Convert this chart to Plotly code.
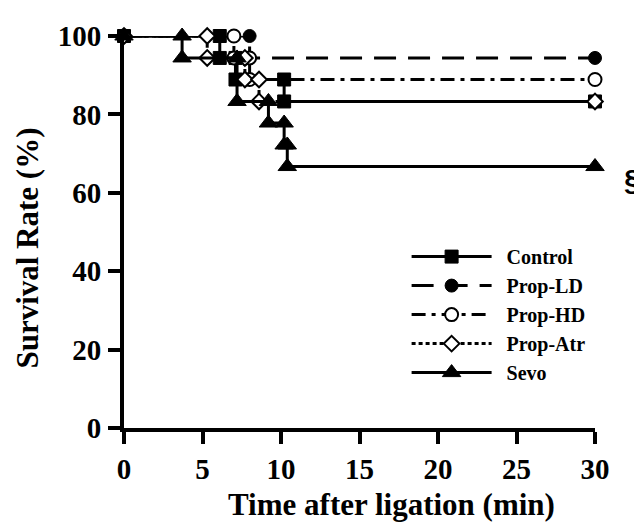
import plotly.graph_objects as go

# ---- data ----
groups = ["Control", "Prop-LD", "Prop-HD", "Prop-Atr", "Sevo"]
control_times = [6.1, 7.1, 10.2]
control_surv = [94.4, 88.9, 83.3]
propld_times = [8.0]
propld_surv = [94.4]
prophd_times = [7.0, 8.0]
prophd_surv = [94.4, 88.9]
propatr_times = [5.3, 7.7, 8.6]
propatr_surv = [94.4, 88.9, 83.3]
sevo_times = [3.7, 7.2, 9.2, 10.2, 10.4]
sevo_surv = [94.4, 83.3, 77.8, 72.2, 66.7]
start_time = 0
end_time = 30
start_surv = 100
x_ticks = [0, 5, 10, 15, 20, 25, 30]
y_ticks = [0, 20, 40, 60, 80, 100]

series = [
    (control_times, control_surv),
    (propld_times, propld_surv),
    (prophd_times, prophd_surv),
    (propatr_times, propatr_surv),
    (sevo_times, sevo_surv),
]

styles = [
    dict(symbol="square", size=13, color="black", line=dict(color="black", width=1), dash="solid"),
    dict(symbol="circle", size=13, color="black", line=dict(color="black", width=1), dash="22px,12px"),
    dict(symbol="circle", size=13, color="white", line=dict(color="black", width=2), dash="14px,6px,4px,6px"),
    dict(symbol="diamond", size=12, color="white", line=dict(color="black", width=2), dash="4px,3px"),
    dict(symbol="triangle-up", size=16, color="black", line=dict(color="black", width=1), dash="solid"),
]


def km_vertices(times, surv):
    xs = [start_time]
    ys = [start_surv]
    prev = start_surv
    for t, s in zip(times, surv):
        xs += [t, t]
        ys += [prev, s]
        prev = s
    xs.append(end_time)
    ys.append(prev)
    return xs, ys


serif = "Liberation Serif, Times New Roman, serif"
fig = go.Figure()
for name, (times, surv), st in zip(groups, series, styles):
    xs, ys = km_vertices(times, surv)
    fig.add_trace(go.Scatter(
        x=xs, y=ys, name="\u00a0\u00a0" + name, mode="lines+markers",
        line=dict(color="black", width=3, dash=st["dash"]),
        marker=dict(symbol=st["symbol"], size=st["size"], color=st["color"], line=st["line"]),
        cliponaxis=False,
    ))

axis_common = dict(
    showline=True, linecolor="black", linewidth=4,
    ticks="outside", ticklen=12, tickwidth=4, tickcolor="black",
    showgrid=False, zeroline=False,
    tickfont=dict(family=serif, size=29, color="black", weight="bold"),
)
fig.update_xaxes(range=[0, 30], tickvals=x_ticks, ticklabelstandoff=0, **axis_common)
fig.update_yaxes(range=[0, 100], tickvals=y_ticks, ticklabelstandoff=1, **axis_common)

# the page body has an 8px margin, so the figure is sized to fit the 642x527 window
fig.update_layout(
    width=634, height=519,
    margin=dict(l=116, r=47, t=16, b=99),
    paper_bgcolor="white", plot_bgcolor="white",
    showlegend=True,
    legend=dict(
        x=0.6, y=0.487, xanchor="left", yanchor="top",
        font=dict(family=serif, size=20, color="black", weight="bold"),
        itemwidth=80, bgcolor="rgba(0,0,0,0)", tracegroupgap=0,
    ),
    annotations=[
        dict(text="Time after ligation (min)", xref="paper", yref="paper",
             x=0.567, y=-0.1955, xanchor="center", yanchor="middle", showarrow=False,
             font=dict(family=serif, size=31, color="black", weight="bold")),
        dict(text="Survival Rate (%)", xref="paper", yref="paper",
             x=-0.204, y=0.46, xanchor="center", yanchor="middle", showarrow=False,
             textangle=-90,
             font=dict(family=serif, size=31, color="black", weight="bold")),
        dict(text="§", xref="paper", yref="paper",
             x=1.0786, y=0.634, xanchor="center", yanchor="middle", showarrow=False,
             font=dict(family="Liberation Sans, Arial, sans-serif", size=30, color="black", weight="bold")),
    ],
)

fig.write_html("out.html")
